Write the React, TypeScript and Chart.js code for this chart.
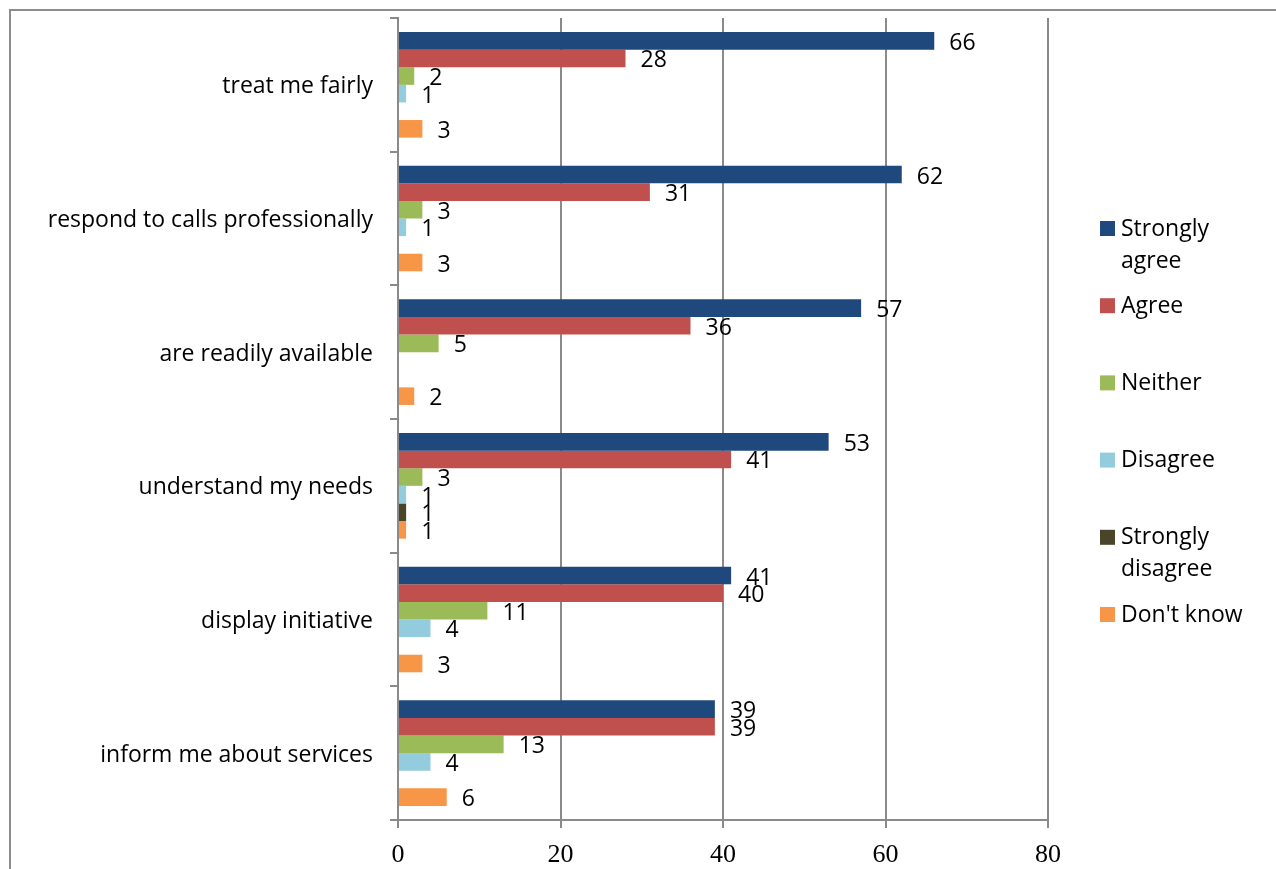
import React, { useEffect, useRef } from "react";
import { Chart, registerables } from "chart.js";

Chart.register(...registerables);

const categories = [
  "treat me fairly",
  "respond to calls professionally",
  "are readily available",
  "understand my needs",
  "display initiative",
  "inform me about services",
];
const seriesNames = ["Strongly agree", "Agree", "Neither", "Disagree", "Strongly disagree", "Don't know"];
const stronglyAgree = [66, 62, 57, 53, 41, 39];
const agree = [28, 31, 36, 41, 40, 39];
const neither = [2, 3, 5, 3, 11, 13];
const disagree = [1, 1, 0, 1, 4, 4];
const stronglyDisagree = [0, 0, 0, 1, 0, 0];
const dontKnow = [3, 3, 2, 1, 3, 6];
const xMin = 0;
const xMax = 80;
const xStep = 20;
const seriesColors = ["#1F497D", "#C0504D", "#9BBB59", "#93CDDD", "#4A452A", "#F79646"];

const FONT = '"Open Sans", "DejaVu Sans", sans-serif';
const FSIZE = 23;
const GRID = "#8a8a8a";

const borderPlugin = {
  id: "outerBorder",
  beforeDraw(chart: any) {
    const ctx = chart.ctx;
    ctx.save();
    ctx.fillStyle = "#ffffff";
    ctx.fillRect(0, 0, chart.width, chart.height);
    ctx.strokeStyle = "#8c8c8c";
    ctx.lineWidth = 2;
    ctx.strokeRect(10, 10, chart.width + 20, chart.height + 20);
    ctx.restore();
  },
};

const valueLabelPlugin = {
  id: "valueLabels",
  afterDatasetsDraw(chart: any) {
    const ctx = chart.ctx;
    ctx.save();
    ctx.font = `${FSIZE}px ${FONT}`;
    ctx.fillStyle = "#000";
    ctx.textAlign = "left";
    ctx.textBaseline = "middle";
    chart.data.datasets.forEach((ds: any, di: number) => {
      const meta = chart.getDatasetMeta(di);
      meta.data.forEach((el: any, i: number) => {
        const v = ds.data[i];
        if (!v) return;
        ctx.fillText(String(v), el.x + 15, el.y + 2.5);
      });
    });
    ctx.restore();
  },
};

const legendPlugin = {
  id: "sideLegend",
  afterDraw(chart: any) {
    const ctx = chart.ctx;
    const area = chart.chartArea;
    ctx.save();
    ctx.font = `${FSIZE}px ${FONT}`;
    ctx.textBaseline = "middle";
    ctx.textAlign = "left";
    const boxX = area.right + 52;
    const textX = boxX + 21;
    const y0 = 228;
    const step = 77.2;
    const lineH = 32;
    const maxW = 140;
    chart.data.datasets.forEach((ds: any, i: number) => {
      const y = y0 + i * step;
      ctx.fillStyle = ds.backgroundColor;
      ctx.fillRect(boxX, y - 7, 15, 15);
      const words = String(ds.label).split(" ");
      const lines: string[] = [];
      let cur = "";
      words.forEach((w) => {
        const t = cur ? cur + " " + w : w;
        if (cur && ctx.measureText(t).width > maxW) {
          lines.push(cur);
          cur = w;
        } else cur = t;
      });
      if (cur) lines.push(cur);
      ctx.fillStyle = "#000";
      lines.forEach((l, j) => ctx.fillText(l, textX, y + 1 + j * lineH));
    });
    ctx.restore();
  },
};

export default function App() {
  const ref = useRef<HTMLCanvasElement | null>(null);
  useEffect(() => {
    document.body.style.margin = "0";
    document.body.style.overflow = "hidden";
    const seriesData = [stronglyAgree, agree, neither, disagree, stronglyDisagree, dontKnow];
    const chart = new Chart(ref.current as HTMLCanvasElement, {
      type: "bar",
      data: {
        labels: categories,
        datasets: seriesNames.map((name, i) => ({
          label: name,
          data: seriesData[i],
          backgroundColor: seriesColors[i],
          borderWidth: 0,
          categoryPercentage: 0.79,
          barPercentage: 1.0,
        })),
      },
      options: {
        indexAxis: "y",
        animation: false,
        responsive: true,
        maintainAspectRatio: false,
        layout: { padding: { top: 18, right: 228, left: 0, bottom: 0 } },
        plugins: { legend: { display: false }, tooltip: { enabled: false } },
        scales: {
          x: {
            min: xMin,
            max: xMax,
            ticks: {
              stepSize: xStep,
              font: { family: '"Liberation Serif", serif', size: 26 },
              color: "#000",
              padding: 12,
            },
            grid: { color: GRID, lineWidth: 2, tickLength: 8 },
            border: { color: GRID, width: 2 },
            afterFit: (s: any) => {
              s.height = 49;
              s.paddingLeft = 0;
              s.paddingRight = 0;
            },
          },
          y: {
            ticks: { font: { family: FONT, size: FSIZE }, color: "#000", padding: 17, labelOffset: 2 },
            grid: { drawOnChartArea: false, color: GRID, lineWidth: 2, tickLength: 8, offset: true },
            border: { color: GRID, width: 2 },
            afterFit: (s: any) => {
              s.width = 398;
              s.paddingTop = 0;
              s.paddingBottom = 0;
            },
          },
        },
      } as any,
      plugins: [borderPlugin, valueLabelPlugin, legendPlugin],
    });
    return () => chart.destroy();
  }, []);
  return (
    <div style={{ width: 1276, height: 869, position: "relative" }}>
      <canvas ref={ref} />
    </div>
  );
}
